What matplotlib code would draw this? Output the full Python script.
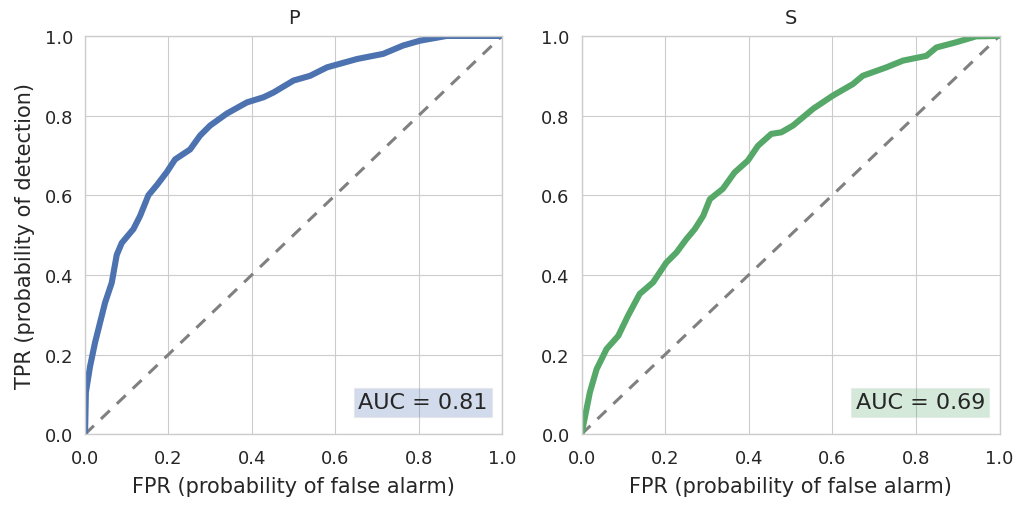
#!/usr/bin/env python3

import matplotlib
matplotlib.use("Agg")
import matplotlib.pyplot as plt
import seaborn as sns

# ROC curves
fpr_p = [0.0, 0.002, 0.012, 0.024, 0.036, 0.048, 0.064, 0.076, 0.088, 0.116,
         0.132, 0.152, 0.172, 0.196, 0.216, 0.252, 0.276, 0.30, 0.34, 0.388,
         0.428, 0.452, 0.50, 0.54, 0.58, 0.652, 0.715, 0.763, 0.803, 0.867, 1.0]
tpr_p = [0.0, 0.105, 0.17, 0.23, 0.28, 0.33, 0.38, 0.45, 0.48, 0.515,
         0.548, 0.60, 0.625, 0.658, 0.69, 0.715, 0.75, 0.775, 0.805, 0.833,
         0.846, 0.858, 0.888, 0.90, 0.921, 0.942, 0.955, 0.976, 0.988, 1.0, 1.0]

fpr_s = [0.0, 0.02, 0.036, 0.06, 0.088, 0.111, 0.139, 0.171, 0.203, 0.227,
         0.251, 0.271, 0.291, 0.307, 0.338, 0.366, 0.398, 0.422, 0.454, 0.478,
         0.506, 0.554, 0.601, 0.649, 0.673, 0.729, 0.769, 0.825, 0.849, 0.896,
         0.944, 1.0]
tpr_s = [0.0, 0.105, 0.163, 0.214, 0.247, 0.297, 0.352, 0.381, 0.431, 0.456,
         0.49, 0.515, 0.548, 0.59, 0.616, 0.657, 0.687, 0.724, 0.754, 0.758,
         0.775, 0.817, 0.85, 0.879, 0.90, 0.921, 0.938, 0.95, 0.971, 0.984,
         0.999, 1.0]

titles = ["P", "S"]
aucs = [0.81, 0.69]
ticks = [0.0, 0.2, 0.4, 0.6, 0.8, 1.0]


def main():
  sns.set_style("whitegrid")
  plt.rcParams['font.family'] = ['DejaVu Sans']
  plt.rcParams['axes.edgecolor'] = '0.8'
  plt.rcParams['grid.color'] = '0.8'
  plt.rcParams['text.color'] = '0.15'
  plt.rcParams['xtick.color'] = '0.15'
  plt.rcParams['ytick.color'] = '0.15'
  plt.rcParams['axes.labelcolor'] = '0.15'

  colors = ["#4C72B0", "#55A868"]
  data = [(fpr_p, tpr_p), (fpr_s, tpr_s)]

  fig = plt.figure(figsize=(10.22, 5.06), dpi=100)
  axes = [fig.add_axes([0.0832, 0.140, 0.408, 0.787]),
          fig.add_axes([0.5690, 0.140, 0.409, 0.787])]

  for i, ax in enumerate(axes):
    x, y = data[i]
    ax.plot([0, 1], [0, 1], '--', color='0.5', linewidth=2.2, dashes=(4, 3.2))
    ax.plot(x, y, '-', color=colors[i], linewidth=4.4, solid_joinstyle='round')
    ax.set_xlim(0, 1)
    ax.set_ylim(0, 1)
    ax.set_xticks(ticks)
    ax.set_yticks(ticks)
    ax.tick_params(labelsize=13, length=0, pad=8.5)
    ax.tick_params(axis='x', length=2, color='0.8')
    ax.set_xlabel("FPR (probability of false alarm)", fontsize=15, labelpad=7)
    ax.set_title(titles[i], fontsize=14, pad=9)
    ax.text(0.965, 0.055, f"AUC = {aucs[i]:.2f}", transform=ax.transAxes,
            ha='right', va='bottom', fontsize=16,
            bbox=dict(facecolor=colors[i], alpha=0.25, edgecolor='0.85',
                      boxstyle='square,pad=0.2'))
    for s in ax.spines.values():
      s.set_linewidth(1.0)

  axes[0].set_ylabel("TPR (probability of detection)", fontsize=15, labelpad=7)

  plt.savefig("out.png", dpi=100)


if __name__ == '__main__':
  main()
